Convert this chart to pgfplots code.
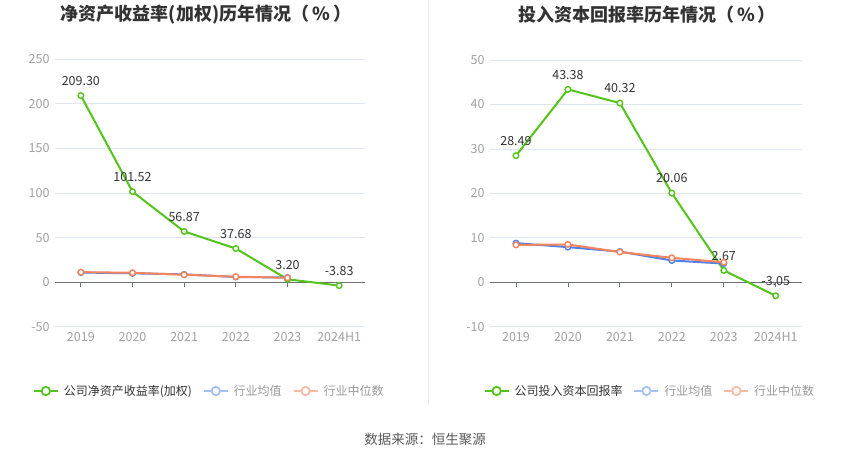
\documentclass[border=0pt]{standalone}
\usepackage{pgfplots}
\pgfplotsset{compat=1.18}
\usepackage{fontspec}
\setmainfont{Noto Sans CJK SC}
\definecolor{cgreen}{HTML}{52C41A}
\definecolor{cblue}{HTML}{4F80EC}
\definecolor{corange}{HTML}{F5845A}
\definecolor{lblue}{HTML}{A6C1F7}
\definecolor{lorange}{HTML}{F9BBA3}
\definecolor{gridc}{HTML}{E0E6F1}
\definecolor{axisc}{HTML}{6E7079}
\definecolor{tickc}{HTML}{A0A0A0}
\definecolor{textc}{HTML}{333333}
\definecolor{legc}{HTML}{999999}
\pgfplotsset{
  mystyle/.style={
    scale only axis, clip=false,
    xmin=-0.5, xmax=5.5,
    xtick={0,...,5}, xticklabels={2019,2020,2021,2022,2023,2024H1},
    axis line style={draw=none},
    major tick style={draw=none},
    ymajorgrids, grid style={gridc, line width=0.8pt},
    tick label style={font=\fontsize{12.5}{14}\selectfont, text=tickc},
    /pgf/number format/assume math mode=true,
    yticklabel style={xshift=-2pt},
    xticklabel style={yshift=-2pt},
    legend columns=3,
    legend style={draw=none, fill=none, inner sep=0pt, outer sep=0pt,
      font=\fontsize{12}{14}\selectfont, column sep=5pt,
      /tikz/every even column/.append style={column sep=11pt},
      anchor=west, nodes={inner sep=0pt}},
    legend image code/.code={\draw[##1] (0pt,0pt) -- (24pt,0pt); \draw[##1, fill=white] (12pt,0pt) circle (4.2pt);},
    every axis plot/.append style={line width=2pt, mark=*, mark size=2.8pt, mark options={fill=white, line width=1.4pt}},
    lbl/.style={nodes near coords, nodes near coords style={font=\fontsize{12.5}{14}\selectfont, text=textc, anchor=south, yshift=6pt,
      /pgf/number format/.cd, fixed, fixed zerofill, precision=2, assume math mode=true}},
  }
}
\begin{document}
\begin{tikzpicture}[x=1pt,y=1pt]
\path[use as bounding box] (0,0) rectangle (850,459);
\draw[color=black!7, line width=0.8pt] (428,459) -- (428,54);
\node[font=\fontsize{18}{21}\selectfont\bfseries, text=textc] at (206,444) {净资产收益率(加权)历年情况（\,\%\,）};
\node[font=\fontsize{18}{21}\selectfont\bfseries, text=textc] at (647,444) {投入资本回报率历年情况（\,\%\,）};
\node[font=\fontsize{13.5}{15}\selectfont, text=black!65] at (425,20) {数据来源：恒生聚源};

\begin{axis}[mystyle, at={(55pt,132.3pt)}, anchor=south west, width=310pt, height=267.4pt,
  ymin=-50, ymax=250, ytick={-50,0,50,100,150,200,250},
  legend style={at={(-0.071,-0.2405)}}]
\addlegendimage{cgreen, line width=1.8pt}
\addlegendentry{\textcolor{textc}{公司净资产收益率(加权)}}
\addlegendimage{lblue, line width=1.8pt}
\addlegendentry{\textcolor{legc}{行业均值}}
\addlegendimage{lorange, line width=1.8pt}
\addlegendentry{\textcolor{legc}{行业中位数}}
\draw[axisc, line width=0.8pt] (axis cs:-0.5,0) -- (axis cs:5.5,0);
\pgfplotsinvokeforeach{0,...,5}{\draw[axisc, line width=0.8pt] (axis cs:#1,0) -- ([yshift=-5pt]axis cs:#1,0);}
\addplot[cgreen, lbl, forget plot] coordinates {(0,209.30) (1,101.52) (2,56.87) (3,37.68) (4,3.20) (5,-3.83)};
\addplot[cblue, forget plot] coordinates {(0,10.8) (1,9.9) (2,8.7) (3,5.8) (4,5.2)};
\addplot[corange, forget plot] coordinates {(0,11.2) (1,10.5) (2,8.3) (3,6.1) (4,4.9)};
\end{axis}

\begin{axis}[mystyle, at={(490pt,132.3pt)}, anchor=south west, width=311.7pt, height=266.7pt,
  ymin=-10, ymax=50, ytick={-10,0,10,20,30,40,50},
  legend style={at={(-0.02,-0.241)}}]
\addlegendimage{cgreen, line width=1.8pt}
\addlegendentry{\textcolor{textc}{公司投入资本回报率}}
\addlegendimage{lblue, line width=1.8pt}
\addlegendentry{\textcolor{legc}{行业均值}}
\addlegendimage{lorange, line width=1.8pt}
\addlegendentry{\textcolor{legc}{行业中位数}}
\draw[axisc, line width=0.8pt] (axis cs:-0.5,0) -- (axis cs:5.5,0);
\pgfplotsinvokeforeach{0,...,5}{\draw[axisc, line width=0.8pt] (axis cs:#1,0) -- ([yshift=-5pt]axis cs:#1,0);}
\addplot[cgreen, lbl, forget plot] coordinates {(0,28.49) (1,43.38) (2,40.32) (3,20.06) (4,2.67) (5,-3.05)};
\addplot[cblue, forget plot] coordinates {(0,8.8) (1,7.9) (2,6.9) (3,4.9) (4,4.2)};
\addplot[corange, forget plot] coordinates {(0,8.4) (1,8.5) (2,6.8) (3,5.5) (4,4.5)};
\end{axis}
\end{tikzpicture}
\end{document}
